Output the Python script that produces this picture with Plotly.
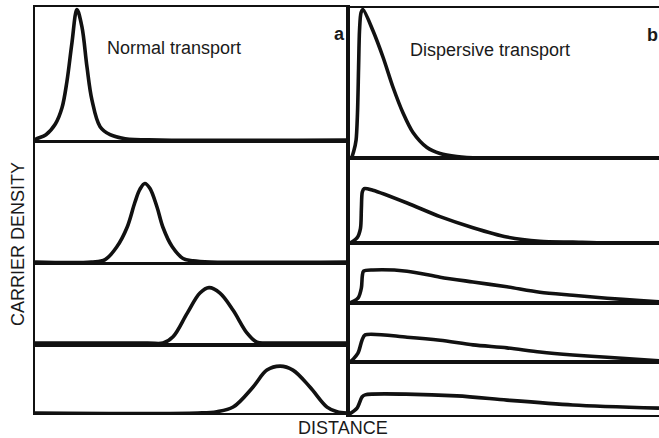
import plotly.graph_objects as go

# ---------------- data (distance in % of panel width, density normalised per box) ----------
# Panel a : normal transport (four snapshots)
a1_x = [0, 0.6, 3.5, 6.5, 8.6, 10.2, 11.8, 13.4, 15.0, 16.6, 18.2, 20.8, 24.0, 28.8, 40, 100]
a1_y = [0, 0.01, 0.04, 0.12, 0.24, 0.44, 0.73, 0.98, 0.85, 0.55, 0.30, 0.10, 0.04, 0.01, 0, 0]
a2_x = [0, 18, 22.4, 26.2, 29.4, 31.9, 33.5, 35.1, 36.7, 39.0, 40.9, 43.8, 47.3, 50.5, 56, 100]
a2_y = [0, 0, 0.02, 0.13, 0.29, 0.50, 0.61, 0.66, 0.62, 0.46, 0.29, 0.13, 0.03, 0.01, 0, 0]
a3_x = [0, 36, 40.9, 44.1, 48.6, 52.7, 55.6, 59.1, 63.3, 67.7, 70.9, 74.1, 80, 100]
a3_y = [0, 0, 0.0, 0.08, 0.38, 0.64, 0.71, 0.64, 0.42, 0.13, 0.01, 0, 0, 0]
a4_x = [0, 52, 58.1, 63.3, 69.6, 74.1, 78.3, 82.4, 87.9, 93.3, 96.5, 99.7, 100]
a4_y = [0, 0, 0.02, 0.09, 0.39, 0.65, 0.71, 0.65, 0.39, 0.09, 0.02, 0, 0]

# Panel b : dispersive transport (five snapshots)
b1_x = [0, 1.0, 1.9, 2.6, 3.05, 3.4, 3.7, 4.2, 4.8, 8.0, 11.3, 14.5, 17.7, 20.9, 25.4, 29.6, 35.0, 42.4, 100]
b1_y = [0, 0, 0.05, 0.12, 0.30, 0.60, 0.85, 0.97, 0.99, 0.85, 0.67, 0.47, 0.30, 0.17, 0.07, 0.03, 0.01, 0, 0]
b2_x = [0, 0.6, 2.9, 4.0, 4.3, 4.6, 5.2, 8.0, 19.0, 29.6, 40.2, 51.1, 61.7, 72.3, 83.3, 100]
b2_y = [0, 0, 0.06, 0.17, 0.40, 0.60, 0.64, 0.62, 0.47, 0.31, 0.18, 0.07, 0.02, 0.01, 0, 0]
b3_x = [0, 0.6, 3.2, 4.3, 4.6, 5.0, 8.0, 19.0, 29.6, 40.2, 51.1, 61.7, 72.3, 83.3, 93.9, 100]
b3_y = [0, 0, 0.08, 0.25, 0.45, 0.53, 0.55, 0.53, 0.43, 0.35, 0.27, 0.18, 0.13, 0.08, 0.04, 0.02]
b4_x = [0, 0.6, 3.2, 4.5, 5.5, 19.0, 29.6, 40.2, 51.1, 61.7, 72.3, 83.3, 100]
b4_y = [0, 0, 0.15, 0.37, 0.46, 0.42, 0.37, 0.29, 0.24, 0.17, 0.12, 0.08, 0.02]
b5_x = [0, 2.9, 4.5, 5.5, 35.0, 51.1, 72.3, 100]
b5_y = [0, 0.13, 0.34, 0.38, 0.36, 0.28, 0.19, 0.13]

panel_a = [(a1_x, a1_y), (a2_x, a2_y), (a3_x, a3_y), (a4_x, a4_y)]
panel_b = [(b1_x, b1_y), (b2_x, b2_y), (b3_x, b3_y), (b4_x, b4_y), (b5_x, b5_y)]

title_a = "Normal transport"
title_b = "Dispersive transport"
x_title = "DISTANCE"
y_title = "CARRIER DENSITY"

# ---------------- layout geometry ----------------
W, H = 659, 438
def px_y(top, bottom):
    return [1 - bottom / H, 1 - top / H]

a_x_dom = [35 / W, 348 / W]
b_x_dom = [348 / W, 1.0]
a_boxes = [(7, 140), (143, 262), (265, 343), (347, 413)]
b_boxes = [(8, 158), (158, 243), (243, 303), (303, 362), (362, 415)]

FONT = "Liberation Sans, Arial, Helvetica, sans-serif"
INK = "#111111"

fig = go.Figure()
layout = {}
idx = 0
for panel, boxes, xdom, is_b in [(panel_a, a_boxes, a_x_dom, False),
                                  (panel_b, b_boxes, b_x_dom, True)]:
    for (xs, ys), (top, bot) in zip(panel, boxes):
        idx += 1
        sx = "" if idx == 1 else str(idx)
        fig.add_trace(go.Scatter(
            x=xs, y=ys, mode="lines",
            line=dict(color=INK, width=3.6, shape="spline",
                      smoothing=0.8 if is_b else 1.0),
            xaxis="x" + sx, yaxis="y" + sx, showlegend=False, hoverinfo="skip"))
        layout["xaxis" + sx] = dict(
            domain=xdom, range=[0, 100], anchor="y" + sx,
            showline=True, mirror=True, linecolor=INK, linewidth=2,
            showgrid=False, zeroline=False, showticklabels=False, ticks="")
        layout["yaxis" + sx] = dict(
            domain=px_y(top, bot), range=[0, 1.0], anchor="x" + sx,
            showline=True, mirror=(not is_b), linecolor=INK, linewidth=2,
            showgrid=False, zeroline=False, showticklabels=False, ticks="")

fig.update_layout(**layout)

def ann(text, x, y, size=18, bold=False, angle=0):
    return dict(text=("<b>%s</b>" % text) if bold else text, x=x, y=y,
                xref="paper", yref="paper", showarrow=False,
                xanchor="center", yanchor="middle", textangle=angle,
                font=dict(family=FONT, size=size, color="#1a1a1a"))

fig.update_layout(
    width=W, height=H,
    margin=dict(l=0, r=0, t=0, b=0),
    paper_bgcolor="white", plot_bgcolor="white",
    annotations=[
        ann(title_a, 174 / W, 1 - 48 / H),
        ann(title_b, 490 / W, 1 - 50 / H),
        ann("a", 339 / W, 1 - 34 / H, bold=True),
        ann("b", 652 / W, 1 - 35 / H, bold=True),
        ann(y_title, 18 / W, 1 - 244 / H, angle=-90),
        ann(x_title, 343 / W, 1 - 428 / H),
    ],
)

fig.write_html("out.html")
